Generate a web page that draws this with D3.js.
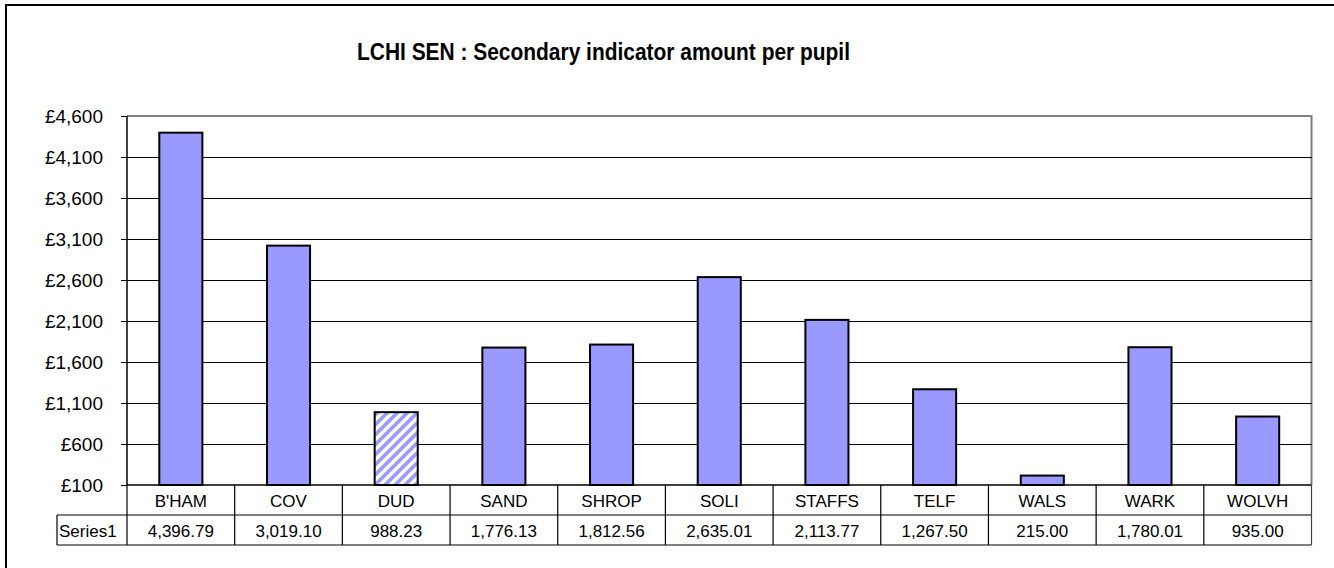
<!DOCTYPE html>
<html>
<head>
<meta charset="utf-8">
<script src="https://cdn.jsdelivr.net/npm/d3@7"></script>
<style>
  html, body { margin: 0; padding: 0; background: #fff; }
  svg { display: block; }
  text { font-family: "Liberation Sans", Arial, sans-serif; fill: #000; }
</style>
</head>
<body>
<script>
const title = "LCHI SEN : Secondary indicator amount per pupil";
const categories = ["B'HAM", "COV", "DUD", "SAND", "SHROP", "SOLI", "STAFFS", "TELF", "WALS", "WARK", "WOLVH"];
const values = [4396.79, 3019.10, 988.23, 1776.13, 1812.56, 2635.01, 2113.77, 1267.50, 215.00, 1780.01, 935.00];
const seriesName = "Series1";
const yTicks = [100, 600, 1100, 1600, 2100, 2600, 3100, 3600, 4100, 4600];
const patterned = ["DUD"];

(function () {
const W = 1334, H = 568;
const svg = d3.select("body").append("svg").attr("width", W).attr("height", H);

const defs = svg.append("defs");
const pat = defs.append("pattern").attr("id", "stripes")
  .attr("patternUnits", "userSpaceOnUse").attr("width", 10).attr("height", 10);
pat.append("rect").attr("width", 10).attr("height", 10).attr("fill", "#fff");
pat.append("path").attr("d", "M-3,3 L3,-3 M0,10 L10,0 M7,13 L13,7")
  .attr("stroke", "#9999FF").attr("stroke-width", 3.6);

// outer chart border
svg.append("rect").attr("x", 6).attr("y", 5).attr("width", 1400).attr("height", 700)
  .attr("fill", "#fff").attr("stroke", "#000").attr("stroke-width", 2);

svg.append("text").attr("x", 603.5).attr("y", 60).attr("text-anchor", "middle")
  .attr("font-size", 23.5).attr("font-weight", "bold")
  .attr("textLength", 493).attr("lengthAdjust", "spacingAndGlyphs").text(title);

const pLeft = 127, pRight = 1311.5, pTop = 116, pBottom = 485;
const y = d3.scaleLinear().domain([100, 4600]).range([pBottom, pTop]);
const xCell = d3.scaleBand().domain(categories).range([pLeft, pRight]).padding(0);
const xBar = d3.scaleBand().domain(categories).range([pLeft, pRight]).paddingInner(0.6).paddingOuter(0.3);

// plot area border (gray top/right)
svg.append("path")
  .attr("d", `M${pLeft},${pTop}H${pRight}V${pBottom}`)
  .attr("fill", "none").attr("stroke", "#808080").attr("stroke-width", 2);

// gridlines
svg.append("g").selectAll("line").data(yTicks.filter(t => t !== 100 && t !== 4600)).join("line")
  .attr("x1", pLeft).attr("x2", pRight).attr("y1", d => y(d)).attr("y2", d => y(d))
  .attr("stroke", "#000").attr("stroke-width", 1).attr("shape-rendering", "crispEdges");

// y axis
const yAxis = d3.axisLeft(y).tickValues(yTicks).tickSize(6).tickPadding(18)
  .tickFormat(d => "£" + d3.format(",")(d));
const ga = svg.append("g").attr("transform", `translate(${pLeft},0)`).call(yAxis);
ga.select(".domain").remove();
ga.selectAll(".tick line").attr("stroke", "#000").attr("shape-rendering", "crispEdges");
ga.selectAll(".tick text").attr("font-size", 19).attr("font-family", "Liberation Sans, Arial, sans-serif")
  .attr("fill", "#000").attr("dy", "0.35em");
svg.append("line").attr("x1", pLeft).attr("x2", pLeft).attr("y1", pTop).attr("y2", pBottom)
  .attr("stroke", "#000").attr("stroke-width", 1.5);

// bars
svg.append("g").selectAll("rect").data(categories).join("rect")
  .attr("x", d => xBar(d)).attr("width", xBar.bandwidth())
  .attr("y", (d, i) => y(values[i])).attr("height", (d, i) => pBottom - y(values[i]))
  .attr("fill", d => patterned.includes(d) ? "url(#stripes)" : "#9999FF")
  .attr("stroke", "#000").attr("stroke-width", 2);

// data table
const rowMid = 515, rowBot = 545, tabLeft = 57;
const tg = svg.append("g").attr("stroke", "#000").attr("stroke-width", 1.2);
tg.append("line").attr("x1", pLeft).attr("x2", pRight).attr("y1", pBottom).attr("y2", pBottom).attr("stroke-width", 1.5);
tg.append("line").attr("x1", tabLeft).attr("x2", pRight).attr("y1", rowMid).attr("y2", rowMid);
tg.append("line").attr("x1", tabLeft).attr("x2", pRight).attr("y1", rowBot).attr("y2", rowBot);
tg.append("line").attr("x1", tabLeft).attr("x2", tabLeft).attr("y1", rowMid).attr("y2", rowBot);
tg.selectAll("line.v").data(categories).join("line").attr("class", "v")
  .attr("x1", d => xCell(d)).attr("x2", d => xCell(d)).attr("y1", pBottom).attr("y2", rowBot);
tg.append("line").attr("x1", pRight).attr("x2", pRight).attr("y1", pBottom).attr("y2", rowBot).attr("stroke", "#444");

svg.append("g").selectAll("text").data(categories).join("text")
  .attr("x", d => xCell(d) + xCell.bandwidth() / 2).attr("y", 506.5)
  .attr("text-anchor", "middle").attr("font-size", 17).text(d => d);
svg.append("g").selectAll("text").data(values).join("text")
  .attr("x", (d, i) => xCell(categories[i]) + xCell.bandwidth() / 2).attr("y", 536.5)
  .attr("text-anchor", "middle").attr("font-size", 17).text(d => d3.format(",.2f")(d));
svg.append("text").attr("x", 59).attr("y", 536.5).attr("font-size", 17).text(seriesName);
})();
</script>
</body>
</html>
